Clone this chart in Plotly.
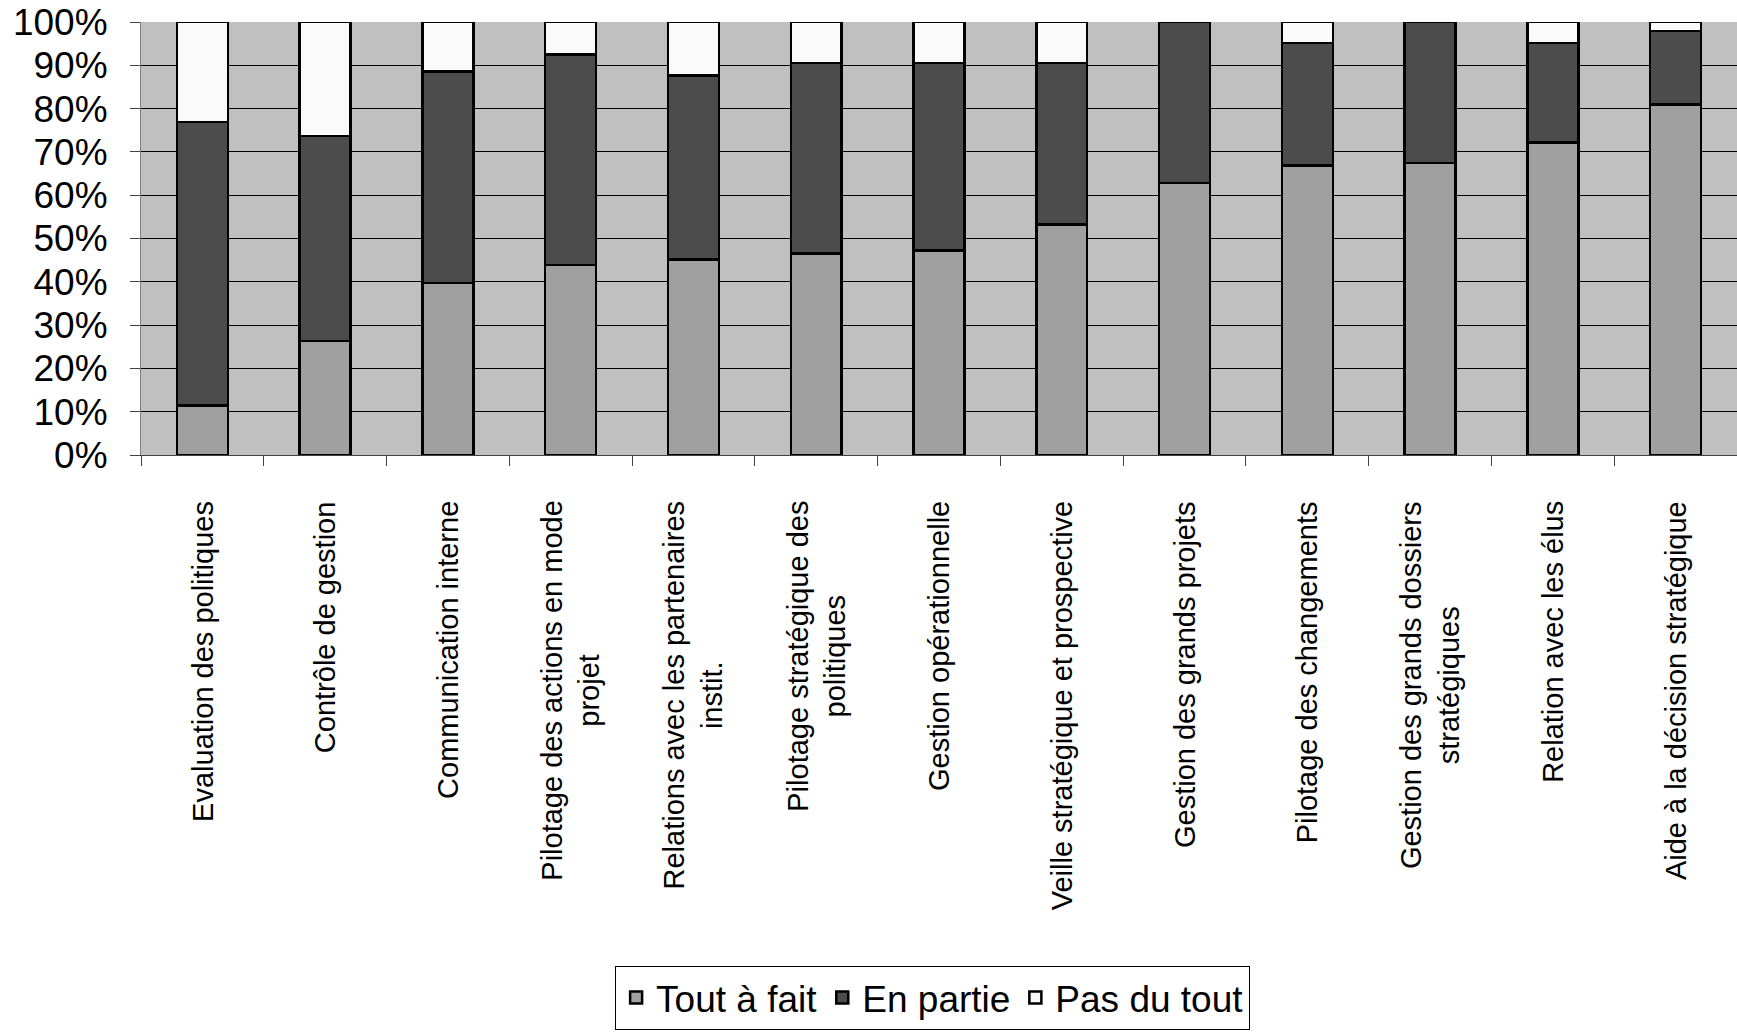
import plotly.graph_objects as go

# Categories (axis order) and share of answers per category, in percent
categories = [
    "Evaluation des politiques",
    "Contrôle de gestion",
    "Communication interne",
    "Pilotage des actions en mode<br>projet",
    "Relations avec les partenaires<br>instit.",
    "Pilotage stratégique des<br>politiques",
    "Gestion opérationnelle",
    "Veille stratégique et prospective",
    "Gestion des grands projets",
    "Pilotage des changements",
    "Gestion des grands dossiers<br>stratégiques",
    "Relation avec les élus",
    "Aide à la décision stratégique",
]
cat_keys = [f"c{i}" for i in range(len(categories))]

tout_a_fait = [11.4, 26.3, 39.7, 43.9, 45.2, 46.5, 47.2, 53.2, 62.8, 66.9, 67.4, 72.2, 81.0]
en_partie = [65.5, 47.4, 48.9, 48.6, 42.5, 44.0, 43.3, 37.3, 37.2, 28.2, 32.6, 22.9, 16.9]
pas_du_tout = [23.1, 26.3, 11.4, 7.5, 12.3, 9.5, 9.5, 9.5, 0.0, 4.9, 0.0, 4.9, 2.1]

y_ticks = [0, 10, 20, 30, 40, 50, 60, 70, 80, 90, 100]
y_tick_text = [f"{v}%" for v in y_ticks]

FONT = "Liberation Sans, Arial, sans-serif"
W, H = 1737, 1034
M_L, M_R, M_T, M_B = 141, 0, 22, 579

series = [
    ("Tout à fait", tout_a_fait, "#a0a0a0"),
    ("En partie", en_partie, "#4c4c4c"),
    ("Pas du tout", pas_du_tout, "#fafafa"),
]

fig = go.Figure()
for name, vals, color in series:
    fig.add_trace(go.Bar(
        name=name,
        x=cat_keys,
        y=vals,
        marker=dict(color=color, line=dict(color="black", width=2.5)),
    ))

# Rotated category labels, centred line by line under each bar
for key, label in zip(cat_keys, categories):
    fig.add_annotation(
        x=key, xref="x", y=0, yref="paper",
        text=label, textangle=-90, align="center",
        xanchor="center", yanchor="top", yshift=-44,
        showarrow=False,
        font=dict(family=FONT, size=29, color="black"),
    )

fig.update_layout(
    width=W, height=H,
    margin=dict(l=M_L, r=M_R, t=M_T, b=M_B),
    barmode="stack",
    bargap=0.585,
    paper_bgcolor="white",
    plot_bgcolor="#c0c0c0",
    font=dict(family=FONT, color="black"),
    showlegend=True,
    legend=dict(
        orientation="h",
        x=0.496, xanchor="center",
        y=-1.18, yanchor="top",
        font=dict(family=FONT, size=37, color="black"),
        bordercolor="black", borderwidth=1,
        bgcolor="white",
        traceorder="normal",
        itemwidth=30,
    ),
    xaxis=dict(
        type="category",
        showticklabels=False,
        ticks="outside", tickson="boundaries", ticklen=10,
        tickcolor="#404040",
        showgrid=False,
        showline=True, linecolor="#404040", linewidth=1,
        range=[-0.5, len(categories) - 0.5],
        fixedrange=True,
    ),
    yaxis=dict(
        range=[0, 100],
        tickvals=y_ticks, ticktext=y_tick_text,
        ticks="outside", ticklen=10, tickcolor="#404040",
        ticklabelstandoff=15,
        tickfont=dict(family=FONT, size=37, color="black"),
        showgrid=True, gridcolor="black", gridwidth=1,
        showline=True, linecolor="#808080", linewidth=1,
        zeroline=False,
        fixedrange=True,
    ),
)

fig.write_html("out.html")
